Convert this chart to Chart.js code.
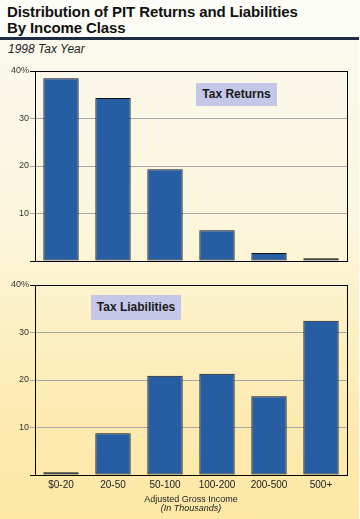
<!DOCTYPE html>
<html>
<head>
<meta charset="utf-8">
<script src="https://cdn.jsdelivr.net/npm/chart.js@4/dist/chart.umd.min.js"></script>
<style>
  html, body { margin: 0; padding: 0; }
  body { width: 360px; height: 519px; position: relative; overflow: hidden; font-family: "Liberation Sans", Arial, sans-serif;
         background: #fdfdf8; }
  #title { position: absolute; left: 7px; top: 4px; font-weight: bold; font-size: 15px; line-height: 15.5px; color: #111; letter-spacing: -0.1px; }
  #rule { position: absolute; left: 0; top: 37px; width: 359px; height: 3px; background: #1e2d41; }
  #panel { position: absolute; left: 0; top: 40px; width: 359px; height: 479px;
           background: linear-gradient(#fbf9ee 0%, #fcf6dc 40%, #fcf0c4 60%, #fdeab0 80%, #fde8a6 100%); }
  #sub { position: absolute; left: 8px; top: 42px; font-style: italic; font-size: 12px; color: #222; }
  .wrap { position: absolute; left: 0; width: 360px; }
  .lbl { position: absolute; background: #c4c7e8; font-weight: bold; font-size: 12px; color: #1a1a1a;
         text-align: center; box-sizing: border-box; }
</style>
</head>
<body>
<div id="panel"></div>
<div id="title">Distribution of PIT Returns and Liabilities<br>By Income Class</div>
<div id="rule"></div>
<div id="sub">1998 Tax Year</div>
<div class="wrap" style="top:60px;height:210px;"><canvas id="c1" width="360" height="210"></canvas></div>
<div class="wrap" style="top:270px;height:249px;"><canvas id="c2" width="360" height="249"></canvas></div>
<div class="lbl" style="left:196px;top:83px;width:81px;height:23px;line-height:23px;">Tax Returns</div>
<div class="lbl" style="left:91px;top:295px;width:90px;height:25px;line-height:25px;">Tax Liabilities</div>
<script>
const categories = ["$0-20", "20-50", "50-100", "100-200", "200-500", "500+"];
const taxReturns = [38.5, 34.3, 19.3, 6.5, 1.7, 0.6];
const taxLiabilities = [0.6, 8.8, 20.9, 21.3, 16.6, 32.5];
const yTicks = [0, 10, 20, 30, 40];
const xTitle = "Adjusted Gross Income";
const xSubTitle = "(In Thousands)";

const FONT = "'Liberation Sans', Arial, sans-serif";
const borderPlugin = {
  id: 'plotBorder',
  afterDatasetsDraw(chart) {
    const a = chart.chartArea, ctx = chart.ctx;
    ctx.save();
    ctx.strokeStyle = '#000';
    ctx.lineWidth = 1;
    ctx.strokeRect(Math.round(a.left) + 0.5, Math.round(a.top) + 0.5,
                   Math.round(a.right - a.left), Math.round(a.bottom - a.top));
    ctx.restore();
  }
};
const axisTitlePlugin = {
  id: 'axisTitle',
  afterDraw(chart, args, opts) {
    if (!opts || !opts.show) return;
    const a = chart.chartArea, ctx = chart.ctx;
    const cx = (a.left + a.right) / 2;
    ctx.save();
    ctx.fillStyle = '#222';
    ctx.textAlign = 'center';
    ctx.textBaseline = 'middle';
    ctx.font = "9px " + FONT;
    ctx.fillText(xTitle, cx, a.bottom + 25);
    ctx.font = "italic 9px " + FONT;
    ctx.fillText(xSubTitle, cx, a.bottom + 33);
    ctx.restore();
  }
};

function makeChart(id, data, showX, padding) {
  return new Chart(document.getElementById(id), {
    type: 'bar',
    data: {
      labels: categories,
      datasets: [{
        data: data,
        backgroundColor: '#275da3',
        borderColor: '#111',
        borderWidth: 1,
        borderSkipped: false,
        barPercentage: 0.68,
        categoryPercentage: 1.0
      }]
    },
    options: {
      responsive: false,
      devicePixelRatio: 1,
      animation: false,
      layout: { padding: padding },
      plugins: {
        legend: { display: false },
        tooltip: { enabled: false },
        axisTitle: { show: showX }
      },
      scales: {
        x: {
          grid: { display: false, drawTicks: false },
          border: { display: true, color: '#000', width: 1 },
          ticks: {
            display: showX,
            padding: 4,
            color: '#222',
            font: { family: FONT, size: 10 }
          }
        },
        y: {
          min: 0, max: 40,
          afterBuildTicks(scale) { scale.ticks = yTicks.map(v => ({ value: v })); },
          afterFit(scale) { scale.width = 35; },
          grid: {
            color: ctx => (ctx.tick && (ctx.tick.value === 0 || ctx.tick.value === 40)) ? '#000' : '#a6a6a6',
            tickLength: 5,
            lineWidth: 1
          },
          border: { display: true, color: '#000', width: 1 },
          ticks: {
            padding: 1,
            color: '#333',
            font: { family: FONT, size: 9 },
            callback: v => v === 0 ? '' : (v === 40 ? '40%' : String(v))
          }
        }
      }
    },
    plugins: [borderPlugin, axisTitlePlugin]
  });
}

makeChart('c1', taxReturns, false, { top: 11, right: 13, bottom: 9, left: 0 });
makeChart('c2', taxLiabilities, true, { top: 15, right: 13, bottom: 24, left: 0 });
</script>
</body>
</html>
